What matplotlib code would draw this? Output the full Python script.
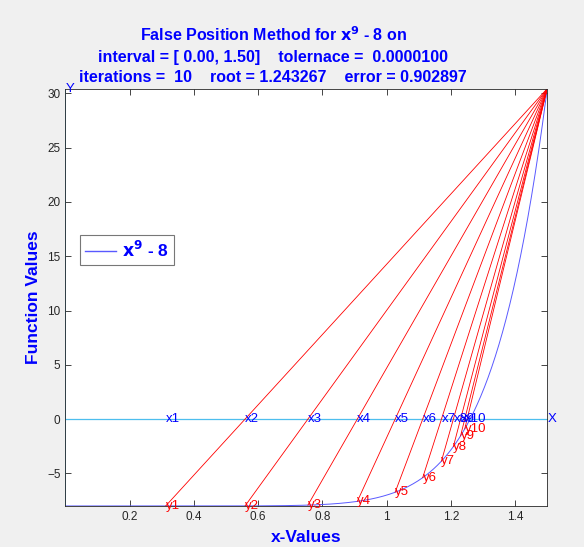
import numpy as np
import matplotlib.pyplot as plt

# -------------------------------------- #
# 数据：x^9 - 8 在 [0, 1.5] 上的试位法迭代
# -------------------------------------- #
a, b = 0.0, 1.5
fb = 30.443359
x_iter = [0.31214, 0.55933, 0.75498, 0.90879, 1.02661,
          1.11235, 1.17068, 1.20782, 1.23023, 1.24327]
y_iter = [-8.0000, -7.9946, -7.9203, -7.5772, -6.7334,
          -5.3927, -3.8700, -2.5294, -1.5457, -0.9029]
x_labels = ['x%d' % (k + 1) for k in range(len(x_iter))]
y_labels = ['y%d' % (k + 1) for k in range(len(y_iter))]
tol = 0.00001
root = 1.243267
err = 0.902897

# 函数曲线
xs = np.linspace(a, b, 400)
ys = xs ** 9 - 8

plt.rcParams['font.family'] = ['Liberation Sans', 'DejaVu Sans']
fig = plt.figure(figsize=(5.84, 5.47), dpi=100, facecolor='#f0f0f0')
ax = fig.add_axes([0.112, 0.075, 0.825, 0.763])

cyan = (0.30, 0.745, 0.933)
curve_color = (0.35, 0.35, 1.0)
ax.plot(xs, ys, color=curve_color, lw=0.7, label='$\\mathbf{x^9}$ - 8')
ax.plot([a, b], [0, 0], color=cyan, lw=0.9)
ax.plot([a, a], [-8, fb], color=cyan, lw=1.2)

for k in range(len(x_iter)):
    ax.plot([x_iter[k], b], [y_iter[k], fb], color='red', lw=0.6)
    ax.text(x_iter[k], 0, x_labels[k], color='blue', fontsize=9.5,
            ha='left', va='center')
    ax.text(x_iter[k], y_iter[k], y_labels[k], color='red', fontsize=9.5,
            ha='left', va='center', clip_on=False)
ax.text(b, 0, 'X', color='blue', fontsize=9.5, ha='left', va='center')
ax.text(a, fb, 'Y', color='blue', fontsize=9.5, ha='left', va='center')

ax.set_xlim(a, b)
ax.set_ylim(-8, fb)
ax.set_xticks([0.2, 0.4, 0.6, 0.8, 1.0, 1.2, 1.4])
ax.set_xticklabels(['0.2', '0.4', '0.6', '0.8', '1', '1.2', '1.4'])
ax.set_yticks([-5, 0, 5, 10, 15, 20, 25, 30])
ax.tick_params(direction='in', top=True, right=True, labelsize=8.5,
               colors='#262626', length=4, width=0.6)
for s in ax.spines.values():
    s.set_linewidth(0.6)
    s.set_color('#262626')

ax.set_xlabel('x-Values', color='blue', fontsize=12.5, fontweight='bold')
ax.set_ylabel('Function Values', color='blue', fontsize=12.5, fontweight='bold')
ax.xaxis.set_label_coords(0.5, -0.058)
ax.yaxis.set_label_coords(-0.05, 0.5)

leg = ax.legend(loc='upper left', bbox_to_anchor=(0.03, 0.65), fancybox=False,
                edgecolor='#555555', handlelength=1.8, handletextpad=0.3,
                borderpad=0.3, borderaxespad=0,
                prop={'weight': 'bold', 'size': 12.5})
leg.get_frame().set_linewidth(0.8)
leg.get_texts()[0].set_color('blue')
leg.get_lines()[0].set_linewidth(1.0)

title = ('False Position Method for $\\mathbf{x^9}$ - 8 on\n'
         'interval = [ %.2f, %.2f]    tolernace =  %.7f\n'
         'iterations =  %d    root = %.6f    error = %.6f'
         % (a, b, tol, len(x_iter), root, err))
fig.text(0.468, 1 - 85 / 547, title, color='blue', fontsize=11.5,
         fontweight='bold', ha='center', va='bottom', linespacing=1.45)

plt.savefig('out.png', facecolor=fig.get_facecolor())
